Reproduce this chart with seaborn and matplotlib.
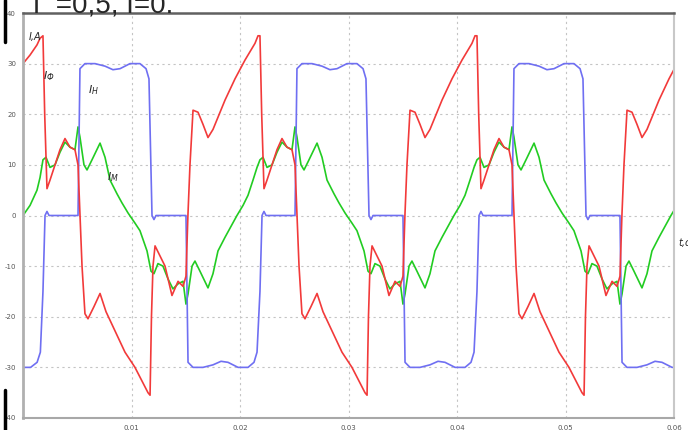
import numpy as np
import pandas as pd
import matplotlib
matplotlib.use("Agg")
import matplotlib.pyplot as plt
import seaborn as sns
from matplotlib.lines import Line2D

# ---------------- data ----------------
PERIOD = 0.02  # s, the steady-state waveform repeats every 0.02 s
N_PERIODS = 3

x_ticks = [0.01, 0.02, 0.03, 0.04, 0.05, 0.06]
x_tick_labels = ["0.01", "0.02", "0.03", "0.04", "0.05", "0.06"]
y_ticks = [-40, -30, -20, -10, 0, 10, 20, 30, 40]
y_tick_labels = ["-40", "-30", "-20", "-10", "0", "10", "20", "30", "40"]

# I_Ф (red)
red_start_t = [0.0, 0.00065, 0.00129, 0.00157]
red_start_v = [30.0, 31.7, 33.7, 35.0]
red_period_t = [0.00184, 0.00200, 0.00221, 0.00249, 0.00295, 0.00341, 0.00387,
                0.00433, 0.00479, 0.00507, 0.00525, 0.00544, 0.00571, 0.00599,
                0.00654, 0.00710, 0.00765, 0.00848, 0.00940, 0.01032, 0.01152,
                0.01171, 0.01184, 0.01198, 0.01217, 0.01263, 0.01309, 0.01373,
                0.01429, 0.01475, 0.01502, 0.01520, 0.01539, 0.01567, 0.01613,
                0.01659, 0.01705, 0.01751, 0.01862, 0.01954, 0.02046, 0.02138,
                0.02166]
red_period_v = [35.5, 20.0, 5.3, 7.0, 10.0, 13.0, 15.2,
                13.5, 13.0, 10.0, 0.0, -10.0, -19.4, -20.4,
                -18.0, -15.4, -19.0, -22.8, -27.0, -30.0, -35.0,
                -35.5, -20.0, -10.0, -6.0, -8.0, -10.0, -15.8,
                -13.0, -14.0, -12.0, 0.0, 10.0, 20.8, 20.4,
                18.0, 15.4, 17.0, 22.8, 27.0, 30.7, 34.0,
                35.5]

# I_Н (blue)
blue_start_t = [0.0, 0.00070, 0.00130, 0.00160]
blue_start_v = [-30.0, -30.0, -29.0, -27.0]
blue_period_t = [0.00184, 0.00203, 0.00221, 0.00240, 0.00507, 0.00525, 0.00571,
                 0.00664, 0.00756, 0.00829, 0.00894, 0.00986, 0.01078, 0.01134,
                 0.01161, 0.01189, 0.01207, 0.01226, 0.01502, 0.01521, 0.01567,
                 0.01659, 0.01751, 0.01825, 0.01889, 0.01982, 0.02074, 0.02129,
                 0.02157]
blue_period_v = [-15.0, 0.0, 0.8, 0.0, 0.0, 29.0, 30.0,
                 30.0, 29.5, 28.8, 29.0, 30.0, 30.0, 29.0,
                 27.0, 0.0, -0.8, 0.0, 0.0, -29.0, -30.0,
                 -30.0, -29.5, -28.8, -29.0, -30.0, -30.0, -29.0,
                 -27.0]

# I_М (green)
green_start_t = [0.0, 0.00065, 0.00129, 0.00157]
green_start_v = [0.0, 2.0, 5.0, 7.5]
green_period_t = [0.00184, 0.00212, 0.00249, 0.00295, 0.00341, 0.00387, 0.00433,
                  0.00479, 0.00507, 0.00525, 0.00562, 0.00590, 0.00636, 0.00710,
                  0.00756, 0.00802, 0.00866, 0.00912, 0.00968, 0.01032, 0.01078,
                  0.01143, 0.01180, 0.01207, 0.01244, 0.01290, 0.01336, 0.01382,
                  0.01429, 0.01475, 0.01502, 0.01521, 0.01558, 0.01585, 0.01631,
                  0.01705, 0.01751, 0.01797, 0.01862, 0.01908, 0.01972, 0.02028,
                  0.02074, 0.02120, 0.02157]
green_period_v = [11.0, 11.5, 9.5, 10.0, 12.5, 14.5, 13.5,
                  13.0, 17.5, 15.5, 10.0, 9.0, 11.0, 14.3,
                  11.5, 7.0, 4.3, 2.5, 0.5, -1.5, -3.0,
                  -7.0, -11.0, -11.5, -9.5, -10.0, -12.5, -14.5,
                  -13.5, -13.0, -17.5, -15.5, -10.0, -9.0, -11.0,
                  -14.3, -11.5, -7.0, -4.3, -2.5, 0.0, 2.0,
                  4.0, 7.0, 9.5]


def build(name, t0, v0, tp, vp):
    ts = list(t0)
    vs = list(v0)
    for k in range(N_PERIODS):
        ts += [t + k * PERIOD for t in tp]
        vs += list(vp)
    return pd.DataFrame({"t": ts, "I": vs, "series": name})


df = pd.concat([
    build("IM", green_start_t, green_start_v, green_period_t, green_period_v),
    build("IH", blue_start_t, blue_start_v, blue_period_t, blue_period_v),
    build("IF", red_start_t, red_start_v, red_period_t, red_period_v),
], ignore_index=True)

colors = {"IM": "#22cc22", "IH": "#6f6ff2", "IF": "#f23a3a"}

# ---------------- figure ----------------
sns.set_style("white")
plt.rcParams["font.family"] = ["DejaVu Sans"]

fig = plt.figure(figsize=(6.88, 4.30), dpi=100)
ax = fig.add_axes([23 / 688, 12 / 430, (674 - 23) / 688, (418 - 13) / 430])

for name in ["IM", "IH", "IF"]:
    sub = df[df["series"] == name]
    sns.lineplot(data=sub, x="t", y="I", ax=ax, color=colors[name],
                 sort=False, estimator=None, linewidth=1.2, legend=False)

ax.set_xlim(0, 0.06)
ax.set_ylim(-40, 40)
ax.set_xticks(x_ticks)
ax.set_xticklabels(x_tick_labels)
ax.set_yticks(y_ticks)
ax.set_yticklabels(y_tick_labels)
ax.tick_params(axis="both", labelsize=5, colors="#555555", length=3, width=1,
               pad=2)
ax.set_xlabel("")
ax.set_ylabel("")
ax.grid(True, linestyle=(0, (2, 3)), color="#c4c4c4", linewidth=0.8)

ax.spines["left"].set_color("#b0b0b0")
ax.spines["left"].set_linewidth(2.0)
ax.spines["top"].set_color("#606060")
ax.spines["top"].set_linewidth(1.8)
ax.spines["bottom"].set_color("#a8a8a8")
ax.spines["bottom"].set_linewidth(1.5)
ax.spines["right"].set_color("#c8c8c8")
ax.spines["right"].set_linewidth(1.5)

# labels
ax.text(0.0005, 35.3, "I,A", fontsize=7, style="italic", ha="left", va="center")
ax.text(0.0018, 27.5, "$I_{Ф}$", fontsize=8, ha="left", va="center")
ax.text(0.0060, 24.8, "$I_{Н}$", fontsize=8, ha="left", va="center")
ax.text(0.0077, 7.6, "$I_{М}$", fontsize=8, ha="left", va="center")
ax.text(0.0604, -5.5, "t,c", fontsize=7, style="italic", ha="left",
        va="center", clip_on=False)

# partially visible heading at the top edge
fig.text(33 / 688, (430 - 12) / 430, "Г =0,5, I=0.", fontsize=20,
         family="Liberation Sans", ha="left", va="baseline")

# scan edge marks at the left border
fig.add_artist(Line2D([5 / 688, 5 / 688], [1.0, 1 - 42 / 430],
                      color="black", linewidth=2.5, transform=fig.transFigure))
fig.add_artist(Line2D([5 / 688, 5 / 688], [40 / 430, 0.0],
                      color="black", linewidth=2.5, transform=fig.transFigure))

fig.savefig("out.png", dpi=100)
